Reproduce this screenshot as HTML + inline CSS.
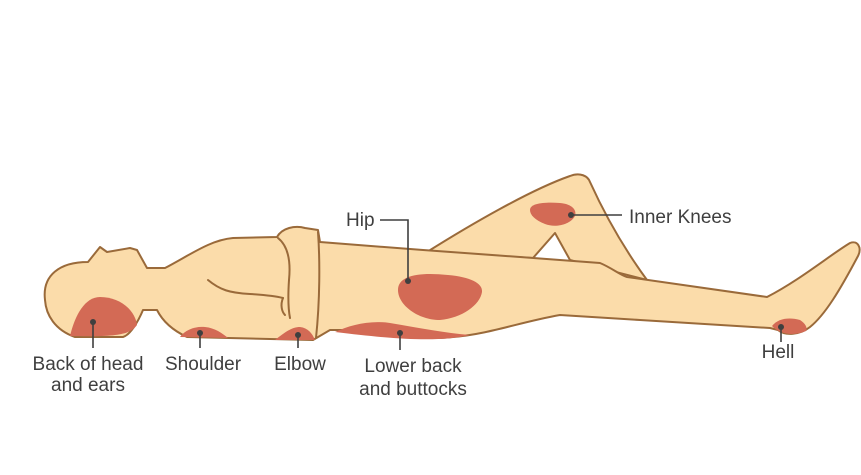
<!DOCTYPE html>
<html><head><meta charset="utf-8"><style>
html,body{margin:0;padding:0;background:#fff;width:861px;height:475px;overflow:hidden}
text{font-family:"Liberation Sans",sans-serif;font-size:19px;fill:#3f3f3f}
</style></head><body>
<svg width="861" height="475" viewBox="0 0 861 475" xmlns="http://www.w3.org/2000/svg">
<g stroke="#9a6a3a" stroke-width="2" stroke-linejoin="round" fill="#fbdcaa">
<path d="M427,252 C470,225 530,190 570,176 C580,172 588,176 590,182 C605,215 625,250 647,280 L600,268 L570,260 L555,233 L533,258 Z"/>
<path d="M45,300 C42,275 60,262 88,262 L100,247 L107,252 L130,248 L137,250 L147,268 L165,268 C190,255 210,240 233,238 L277,237 C282,228 295,225 305,228 L318,230 L320,242 L423,250 L520,257 L600,263 C612,268 620,275 627,277 L767,297 C800,280 830,255 850,243 C858,240 862,248 858,256 C840,290 825,315 810,327 C800,335 785,336 778,330 L770,328 L640,320 L560,315 C520,322 490,334 453,337 C430,340 400,335 370,330 L330,330 L313,340 L187,337 C172,330 162,320 157,310 L143,310 C138,322 130,335 123,337 L75,337 C55,330 46,315 45,300 Z"/>
</g>
<g fill="none" stroke="#9a6a3a" stroke-width="2" stroke-linecap="round">
<path d="M208,280 C220,290 230,293 250,294 C265,295 275,296 283,298"/>
<path d="M283,298 C280,305 282,312 285,315"/>
<path d="M278,238 C288,246 291,260 289,280 C288,295 288,308 290,318"/>
<path d="M318,232 C320,260 320,300 316,338"/>
</g>
<g fill="#d36a55">
<path d="M70,336 C75,315 85,297 100,297 C120,297 135,310 137,325 C130,335 115,337 70,336 Z"/>
<path d="M180,337 C185,330 195,326 205,327 C215,328 222,333 228,338 Z"/>
<path d="M275,340 C285,332 292,327 300,327 C308,328 312,333 315,340 Z"/>
<path d="M335,332 C350,325 370,320 390,323 C420,328 445,333 470,335 C440,342 400,340 335,332 Z"/>
<path d="M398,290 C398,275 420,272 448,275 C470,277 483,283 482,292 C480,305 462,318 440,320 C418,320 398,305 398,290 Z"/>
<path d="M530,210 C530,203 545,202 560,203 C572,204 577,210 575,216 C570,225 555,228 545,224 C535,220 530,215 530,210 Z"/>
<path d="M772,326 C778,318 790,317 800,320 C805,323 808,328 806,331 C795,336 780,335 772,326 Z"/>
</g>
<g stroke="#3f3f3f" stroke-width="1.6" fill="none">
<path d="M93,322 V348"/><path d="M200,333 V348"/><path d="M298,335 V348"/><path d="M400,333 V350"/>
<path d="M380,220 H408 V280"/><path d="M572,215 H622"/><path d="M781,327 V342"/>
</g>
<g fill="#3f3f3f">
<circle cx="93" cy="322" r="3"/><circle cx="200" cy="333" r="3"/><circle cx="298" cy="335" r="3"/><circle cx="400" cy="333" r="3"/><circle cx="408" cy="281" r="3"/><circle cx="571" cy="215" r="3"/><circle cx="781" cy="327" r="3"/>
</g>
<text x="88" y="370" text-anchor="middle">Back of head</text>
<text x="88" y="391" text-anchor="middle">and ears</text>
<text x="203" y="370" text-anchor="middle">Shoulder</text>
<text x="300" y="370" text-anchor="middle">Elbow</text>
<text x="413" y="372" text-anchor="middle">Lower back</text>
<text x="413" y="395" text-anchor="middle">and buttocks</text>
<text x="346" y="226">Hip</text>
<text x="629" y="223">Inner Knees</text>
<text x="778" y="358" text-anchor="middle">Hell</text>
</svg>
</body></html>
